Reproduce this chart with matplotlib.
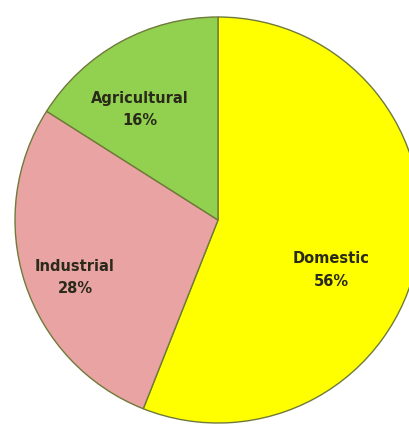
import numpy as np
import matplotlib.pyplot as plt

# water use shares
categories = ["Domestic", "Industrial", "Agricultural"]
shares = [56, 28, 16]
colors = ['#ffff00', '#e9a3a3', '#92d050']

# label placement (fraction of radius, angle nudge in degrees)
label_dist = [0.61, 0.76, 0.665]
label_nudge = [-13, 4, 6.5]

fig = plt.figure(figsize=(4.09, 4.26), dpi=100)
ax = fig.add_axes([0, 0, 1, 1])

wedges, _ = ax.pie(shares, colors=colors, startangle=90, counterclock=False,
                   wedgeprops=dict(edgecolor='#6f7a3a', linewidth=1.0))

for w, name, s, d, n in zip(wedges, categories, shares, label_dist, label_nudge):
    ang = np.deg2rad((w.theta1 + w.theta2) / 2 + n)
    ax.text(d * np.cos(ang), d * np.sin(ang), f"{name}\n{s}%",
            ha='center', va='center', fontsize=10.5, fontweight='bold',
            color='#2a2a1a', linespacing=1.6)

# pie centre sits at (218, 220) px, radius 203 px
r = 203.0
ax.set_xlim(-218 / r, (409 - 218) / r)
ax.set_ylim(-(426 - 220) / r, 220 / r)
ax.set_aspect('equal')
ax.axis('off')

plt.savefig("out.png", dpi=100)
plt.close()
